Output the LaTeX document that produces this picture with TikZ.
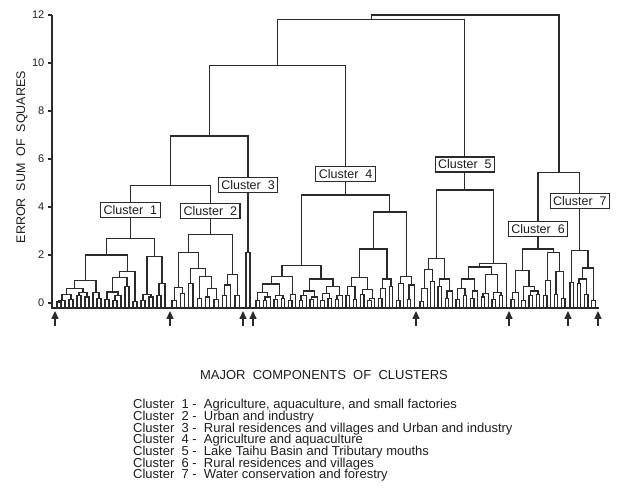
\documentclass[tikz,border=0pt]{standalone}
\usepackage{fontspec}
\setmainfont{Liberation Sans}
\usepackage{tikz}
\usetikzlibrary{arrows.meta,positioning,calc}
\definecolor{DendroInk}{HTML}{2A2A2A}
\definecolor{DendroText}{HTML}{1E1E1E}

% postfix dendrogram: 0 = next leaf, any other value = join last two at that height
\gdef\dstack{}
\gdef\leafx{0}
\gdef\leafstep{4}
\def\dbase{-0.2}
\newcommand\dpush[2]{\xdef\dstack{{#1}{#2}\dstack}}
\def\dpopi#1#2#3\relax{\gdef\dtx{#1}\gdef\dty{#2}\gdef\dstack{#3}}
\newcommand\dpop{\expandafter\dpopi\dstack\relax}
\newcommand\leafrow[2]{\xdef\leafx{#1}\xdef\leafstep{#2}}
\newcommand\dendro[1]{%
  \foreach \hh in {#1}{%
    \ifdim\hh pt=0pt
      \dpush{\leafx}{\dbase}%
      \pgfmathsetmacro\dnext{\leafx+\leafstep}%
      \xdef\leafx{\dnext}%
    \else
      \dpop\let\dRx\dtx\let\dRy\dty
      \dpop\let\dLx\dtx\let\dLy\dty
      \draw[link] (\dLx,\dLy) |- (\dRx,\hh) -- (\dRx,\dRy);
      \pgfmathsetmacro\dMx{(\dLx+\dRx)/2}%
      \dpush{\dMx}{\hh}%
    \fi}}
\newcommand\nametop[1]{\dpop\coordinate (#1) at (\dtx,\dty);\dpush{\dtx}{\dty}}
\newcommand\tightlines{\fontsize{13}{11.7}\selectfont\lineskiplimit=-20pt\relax}

\begin{document}
\begin{tikzpicture}[x=1pt,y=24pt,
  link/.style={draw=DendroInk,line width=1.15pt},
  axis/.style={draw=DendroInk,line width=1.6pt},
  tag/.style={draw=DendroInk,fill=white,line width=1.2pt,inner xsep=3pt,inner ysep=0pt,minimum height=15pt,font=\fontsize{12.5}{12.5}\selectfont,text=DendroText},
  pin/.style={draw=DendroInk,line width=1.3pt,-{Triangle[length=8pt,width=7pt]}},
  num/.style={anchor=east,inner sep=0pt,font=\fontsize{11}{11}\selectfont,text=DendroText},
  legend/.style={align=left,anchor=north west,inner sep=0pt,font=\tightlines,text=DendroText},
]
\useasboundingbox (0,-8.25) rectangle (624,12.625);

% axes
\draw[axis] (52,12) -- (52,-0.2) -- (599,-0.2);
\foreach \v in {0,2,...,12}{
  \draw[axis,line width=1.2pt] (48,\v) -- (52,\v);
  \node[num] (y\v) at (44.5,\v) {\v};
}
\node[rotate=90,font=\fontsize{12.5}{12.5}\selectfont,text=DendroText] (ytitle) at (22,6.08) {ERROR~~SUM~~OF~~SQUARES};

% cluster 1
\leafrow{57}{4}
\dendro{0,0,0.04,0,0.12,0,0,0.15,0.35, 0,0,0.3,0,0,0.25,0.42, 0.62,
  0,0,0,0.2,0.42, 0.92,
  0,0,0.15,0,0,0.1,0,0.3,0.46, 0,0,0.67, 1.08, 0,0,0.08, 1.33, 2.0,
  0,0,0.1,0,0,0.25,0.35, 0,0,0.3,0,0.83, 1.92, 2.67}
\nametop{cl1}
% cluster 2
\leafrow{172}{4.2}
\dendro{0,0,0.1,0,0,0.4,0.65, 0,0,0.83, 0,0,0.2, 0,0,0.25,0,0,0.15,0.6,
  1.1, 1.45, 2.1, 0,0,0.3,0,0.75, 0,0,0.3, 1.17, 2.85}
\nametop{cl2}
\dendro{4.88}
% cluster 3
\leafrow{246}{4}
\dendro{0,0,2.12}
\nametop{cl3}
\dendro{6.96}
% cluster 4
\leafrow{256}{3.6}
\dendro{0,0,0.1,0,0,0.1,0,0.25,0.42, 0,0,0.15,0,0,0.2,0.3, 0.79,
  0,0,0.1,0,0.35, 1.12,
  0,0,0.1,0,0.3,0,0,0.15,0,0.25,0.5, 0,0,0.1,0,0,0.2,0.4,0,0,0.15,0,0.3,0.7, 1.0, 1.58,
  0,0,0.3,0,0,0.15,0.67, 0,0,0.35,0,0,0.1,0,0.2,0.58, 1.08,
  0,0,0.2,0,0.6,0,0,0.7,1.0, 2.25,
  0,0,0.1,0,0.8,0,0,0.15,0,0.75,1.12, 3.79, 4.5}
\nametop{cl4}
\dendro{9.88}
% cluster 5
\leafrow{420}{3.6}
\dendro{0,0,0.05,0,0.6,0,0,0.9,1.4, 0,0,0.7,0,0,0.2,0,0.5,1.0, 1.87,
  0,0,0.15,0,0,0.3,0.6,0,0,0.2,0,0.5,1.0,
  0,0,0.25,0,0.4,0,0,0.15,0,0,0.3,0.45,1.2, 1.5, 0, 1.66, 4.71}
\nametop{cl5}
\dendro{11.83}
% cluster 6
\leafrow{511}{3.6}
\dendro{0,0,0.15,0,0.45, 0,0,0.1,0,0,0.3,0,0,0.35,0.5,0.67, 1.37,
  0,0,0.3,0,0.95, 0,0,0.35,0,0,0.2,1.3, 2.1, 2.25}
\nametop{cl6}
% cluster 7
\leafrow{570}{3.6}
\dendro{0,0,0.85, 0,0,0.8,0,0,0.35,1.0,0,0,0.1,1.46, 2.2}
\nametop{cl7}
\dendro{5.42}
\dendro{12.0}

% cluster tags
\path (cl1) ++(0,1.21) node[tag] (t1) {Cluster~~1};
\path (cl2) ++(0,1.0) node[tag] (t2) {Cluster~~2};
\path (cl3) ++(0,2.8) node[tag] (t3) {Cluster~~3};
\path (cl4) ++(0,0.88) node[tag] (t4) {Cluster~~4};
\path (cl5) ++(0,1.06) node[tag] (t5) {Cluster~~5};
\path (cl6) ++(0,0.85) node[tag] (t6) {Cluster~~6};
\path (cl7) ++(0,2.05) node[tag] (t7) {Cluster~~7};

% cluster boundaries
\foreach \x in {55,170,243,253,416,509,568,598}
  \draw[pin] (\x,-0.95) -- (\x,-0.33);

% legend
\node[font=\fontsize{13}{13}\selectfont,text=DendroText] (heading) at (324,-3.02) {MAJOR~~COMPONENTS~~OF~~CLUSTERS};
\node[legend] (legend) at (133,-4.0) {Cluster~~1~-~~Agriculture, aquaculture, and small factories\\
  Cluster~~2~-~~Urban and industry\\
  Cluster~~3~-~~Rural residences and villages and Urban and industry\\
  Cluster~~4~-~~Agriculture and aquaculture\\
  Cluster~~5~-~~Lake Taihu Basin and Tributary mouths\\
  Cluster~~6~-~~Rural residences and villages\\
  Cluster~~7~-~~Water conservation and forestry};
\end{tikzpicture}
\end{document}
